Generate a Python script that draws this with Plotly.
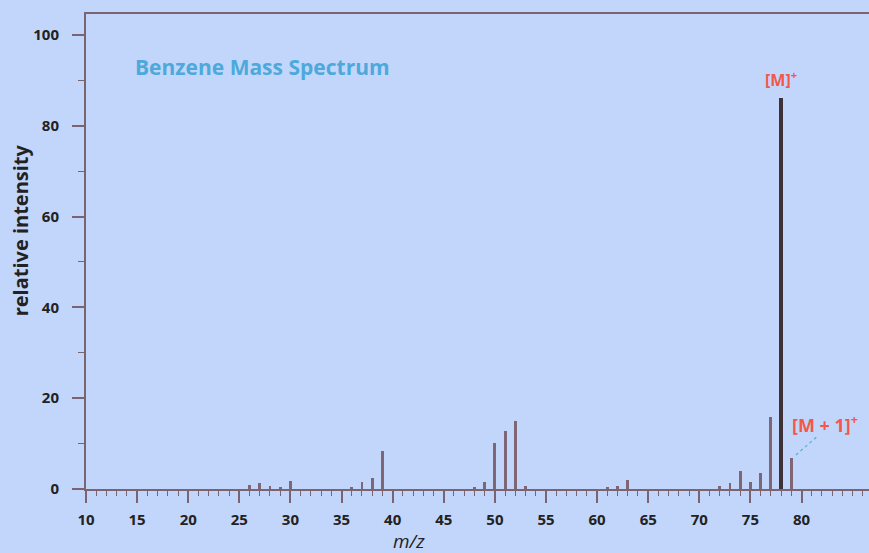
import plotly.graph_objects as go

# ---- data ----
mz = [26, 27, 28, 29, 30, 36, 37, 38, 39, 48, 49, 50, 51, 52, 53,
      61, 62, 63, 72, 73, 74, 75, 76, 77, 78, 79]
intensity = [0.8, 1.4, 0.6, 0.4, 1.7, 0.5, 1.6, 2.4, 8.3, 0.5, 1.6, 10.1, 12.7, 15.0, 0.7,
             0.5, 0.7, 1.9, 0.6, 1.3, 4.0, 1.6, 3.6, 15.9, 86.0, 6.9]
x_ticks = [10, 15, 20, 25, 30, 35, 40, 45, 50, 55, 60, 65, 70, 75, 80]
y_ticks = [0, 20, 40, 60, 80, 100]
title_text = "Benzene Mass Spectrum"
x_title = "m/z"
y_title = "relative intensity"
m_label = "[M]<sup>+</sup>"
m1_label = "[M + 1]<sup>+</sup>"

BG = "#C2D6FB"
AXIS = "#7A6472"
BAR = "#7E6674"
BAR_DARK = "#3E3238"
RED = "#F2584A"

peak_idx = intensity.index(max(intensity))
colors = [BAR_DARK if i == peak_idx else BAR for i in range(len(mz))]
widths = [0.36 if i == peak_idx else 0.28 for i in range(len(mz))]

fig = go.Figure()
fig.add_trace(go.Bar(x=mz, y=intensity, width=widths,
                     marker=dict(color=colors, line=dict(width=0)),
                     hoverinfo="x+y", showlegend=False))

m_x = mz[peak_idx]
m_y = intensity[peak_idx]
m1_x = mz[peak_idx + 1]
m1_y = intensity[peak_idx + 1]

fig.update_layout(
    width=869, height=553,
    margin=dict(l=86, r=0, t=14, b=64),
    paper_bgcolor=BG, plot_bgcolor=BG,
    bargap=0,
    font=dict(family="Open Sans, Noto Sans, sans-serif", color="#222222"),
    xaxis=dict(range=[10, 86.6], tickmode="array", tickvals=x_ticks,
               showgrid=False, zeroline=False,
               showline=True, linecolor=AXIS, linewidth=2, mirror=True,
               ticks="outside", ticklen=12, tickwidth=1.5, tickcolor=AXIS,
               ticklabelstandoff=4,
               minor=dict(dtick=1, ticks="outside", ticklen=5, tickwidth=1.2,
                          tickcolor=AXIS, showgrid=False),
               tickfont=dict(size=15, color="#222222", weight="bold")),
    yaxis=dict(range=[0, 104.6], tickmode="array", tickvals=y_ticks,
               showgrid=False, zeroline=False,
               showline=True, linecolor=AXIS, linewidth=2,
               ticks="outside", ticklen=12, tickwidth=1.5, tickcolor=AXIS,
               ticklabelstandoff=10,
               minor=dict(dtick=10, ticks="outside", ticklen=6, tickwidth=1.2,
                          tickcolor=AXIS, showgrid=False),
               tickfont=dict(size=15, color="#222222", weight="bold")),
)

annotations = [
    dict(text=title_text, xref="paper", yref="paper", x=0.060, y=0.888,
         xanchor="left", yanchor="middle", showarrow=False,
         font=dict(size=21, color="#4DA9DB", weight="bold")),
    dict(text=f"<i>{x_title}</i>", xref="paper", yref="paper", x=0.413, y=-0.109,
         xanchor="center", yanchor="middle", showarrow=False,
         font=dict(size=19, color="#222222")),
    dict(text=y_title, xref="paper", yref="paper", x=-0.084, y=0.545,
         xanchor="center", yanchor="middle", showarrow=False, textangle=-90,
         font=dict(size=20, color="#222222", weight="bold")),
    dict(text=m_label, x=m_x, y=m_y, xref="x", yref="y",
         xanchor="center", yanchor="bottom", yshift=5, xshift=0, showarrow=False,
         font=dict(size=16, color=RED, weight="bold")),
    dict(text=m1_label, x=m1_x - 0.15, y=m1_y + 7.5, xref="x", yref="y",
         xanchor="left", yanchor="middle", showarrow=False,
         font=dict(size=18, color=RED, weight="bold")),
]
fig.update_layout(annotations=annotations)

fig.add_shape(type="line", xref="x", yref="y",
              x0=m1_x + 0.45, y0=m1_y + 0.6, x1=m1_x + 2.5, y1=m1_y + 4.6,
              line=dict(color="#4FB4CC", width=1.2, dash="dot"))

fig.write_html("out.html",
               config={"displayModeBar": False},
               post_script="document.body.style.margin='0';"
                           "document.body.style.overflow='hidden';")
